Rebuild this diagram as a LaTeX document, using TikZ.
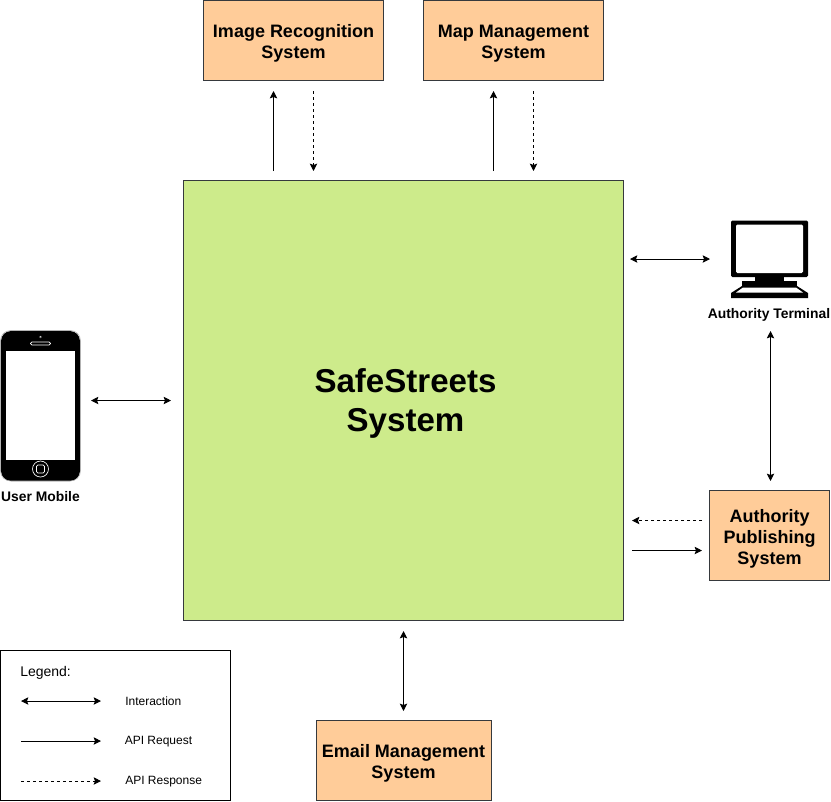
\documentclass[tikz,border=0pt]{standalone}
\usepackage{fontspec}
\setmainfont{Liberation Sans}
\usetikzlibrary{arrows.meta}
\definecolor{sysgreen}{HTML}{CDEB8B}
\definecolor{extorange}{HTML}{FFCC99}
\definecolor{edgegray}{HTML}{36393D}
\newcommand{\dropline}{\rule{0pt}{14.5pt}}
\tikzset{
  extbox/.style={draw=edgegray, fill=extorange, line width=0.75pt, align=center, inner sep=0pt,
    font=\fontsize{13.5}{15.9}\selectfont\bfseries},
  devlabel/.style={font=\fontsize{10.4}{12}\selectfont\bfseries, inner sep=0pt},
  legendtext/.style={font=\fontsize{9}{10}\selectfont, inner sep=0pt},
  tip/.tip={Stealth[length=5.5pt,width=5.5pt,inset=1pt]},
  interaction/.style={tip-tip, line width=0.75pt},
  request/.style={-tip, line width=0.75pt},
  response/.style={-tip, line width=0.75pt, dash pattern=on 2.25pt off 2.25pt}
}
\begin{document}
\begin{tikzpicture}[x=0.75pt, y=-0.75pt]
    \useasboundingbox (0,0) rectangle (831,801);

    % main system and outer systems
    \node[draw=edgegray, fill=sysgreen, line width=0.75pt, minimum width=330pt, minimum height=330pt,
      align=center, inner sep=0pt, font=\fontsize{24.8}{29.3}\selectfont\bfseries] (safestreets) at (403.5,400.5)
      {\rule{0pt}{23pt}\hspace*{3pt}SafeStreets\\\hspace*{3pt}System};
    \node[extbox, minimum width=135pt, minimum height=60pt] (imagesys) at (293.5,40) {\dropline Image Recognition\\System};
    \node[extbox, minimum width=135pt, minimum height=60pt] (mapsys) at (513.5,40) {\dropline Map Management\\System};
    \node[extbox, minimum width=90pt, minimum height=67.5pt] (publishsys) at (769.5,535.5) {\dropline Authority\\Publishing\\System};
    \node[extbox, minimum width=131.25pt, minimum height=60pt] (emailsys) at (403.5,760.5) {\dropline Email Management\\System};

    % user mobile
    \fill[black, rounded corners=7.5pt] (1,331) rectangle (80,481);
    \draw[gray!60, line width=0.4pt, rounded corners=7.5pt] (0.5,330.5) rectangle (80.5,481);
    \fill[white] (6,350.5) rectangle (75,460);
    \fill[white] (40.5,337) circle (1.2);
    \fill[black] (40.5,337) circle (0.5);
    \draw[white, line width=0.5pt, rounded corners=1pt] (30.5,342) rectangle (50.5,345);
    \draw[white, line width=0.5pt] (40.5,469) circle (8);
    \draw[white, line width=0.5pt, rounded corners=1pt] (36.5,465) rectangle (44.5,473);
    \node[devlabel] (mobilelabel) at (40.5,497) {User Mobile};

    % authority terminal
    \fill[black, rounded corners=1pt] (731,220.5) rectangle (808,277);
    \fill[white, rounded corners=1pt] (736,224.5) rectangle (803,273);
    \fill[black] (755,277) rectangle (784,281);
    \fill[black] (742,281) rectangle (797,286);
    \fill[black] (742,286) -- (797,286) -- (808,293) -- (808,298) -- (731,298) -- (731,293) -- cycle;
    \fill[white] (743,287.5) -- (796,287.5) -- (803,292.5) -- (736,292.5) -- cycle;
    \node[devlabel] (terminallabel) at (769,314.5) {Authority Terminal};

    % free ends of the connectors
    \coordinate (imageout) at (273.5,171);
    \coordinate (imagein) at (273.5,91);
    \coordinate (imagefrom) at (313.5,91);
    \coordinate (imageto) at (313.5,171);
    \coordinate (mapout) at (493.5,171);
    \coordinate (mapin) at (493.5,91);
    \coordinate (mapfrom) at (533.5,91);
    \coordinate (mapto) at (533.5,171);
    \coordinate (termleft) at (630,259);
    \coordinate (termright) at (710,259);
    \coordinate (termup) at (770.5,331);
    \coordinate (pubup) at (770.5,481);
    \coordinate (mobleft) at (91,400.5);
    \coordinate (mobright) at (171,400.5);
    \coordinate (pubfrom) at (702,520.5);
    \coordinate (pubto) at (632,520.5);
    \coordinate (reqfrom) at (632,550.5);
    \coordinate (reqto) at (702,550.5);
    \coordinate (mailup) at (403.5,631);
    \coordinate (maildown) at (403.5,711);

    \draw[request] (imageout) -- (imagein);
    \draw[response] (imagefrom) -- (imageto);
    \draw[request] (mapout) -- (mapin);
    \draw[response] (mapfrom) -- (mapto);
    \draw[interaction] (termleft) -- (termright);
    \draw[interaction] (termup) -- (pubup);
    \draw[interaction] (mobleft) -- (mobright);
    \draw[response] (pubfrom) -- (pubto);
    \draw[request] (reqfrom) -- (reqto);
    \draw[interaction] (mailup) -- (maildown);

    % legend
    \node[draw=black, line width=0.75pt, minimum width=172.5pt, minimum height=112.5pt, inner sep=0pt] (legendbox) at (115,725.5) {};
    \node[inner sep=0pt, anchor=west, font=\fontsize{10.5}{12}\selectfont] (legendtitle) at (20,672.5) {Legend:};
    \node[legendtext, anchor=west] (interlabel) at (125,701) {Interaction};
    \node[legendtext, anchor=west] (reqlabel) at (124.5,742) {API Request};
    \node[legendtext, anchor=west] (resplabel) at (125,782) {API Response};
    \coordinate (interfrom) at (21,701);
    \coordinate (interto) at (101,701);
    \coordinate (legreqfrom) at (21,741);
    \coordinate (legreqto) at (101,741);
    \coordinate (legrespfrom) at (21,781);
    \coordinate (legrespto) at (101,781);
    \draw[interaction] (interfrom) -- (interto);
    \draw[request] (legreqfrom) -- (legreqto);
    \draw[response] (legrespfrom) -- (legrespto);
\end{tikzpicture}
\end{document}
